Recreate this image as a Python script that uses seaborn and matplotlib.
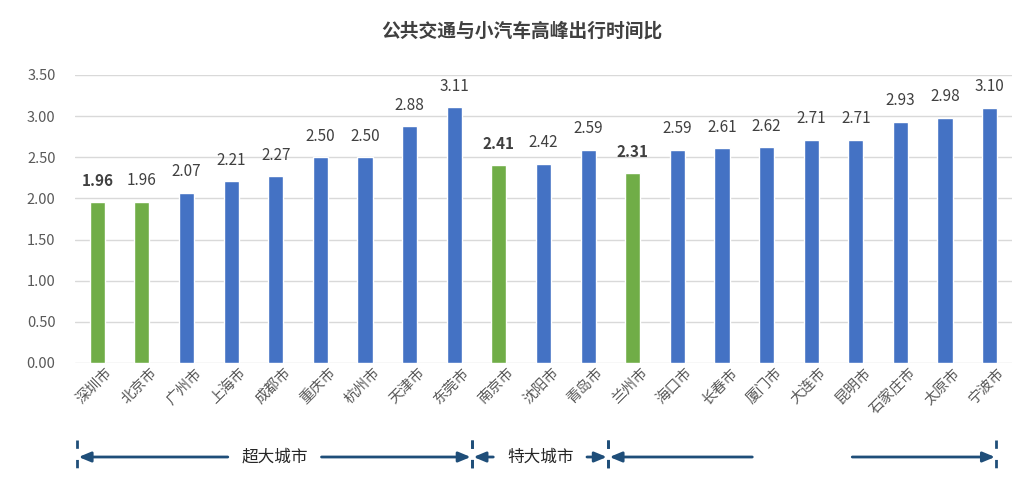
import matplotlib
matplotlib.use("Agg")
import matplotlib.pyplot as plt
import matplotlib.transforms as mtransforms
import seaborn as sns
import pandas as pd

cities = ["深圳市", "北京市", "广州市", "上海市", "成都市", "重庆市", "杭州市", "天津市", "东莞市",
          "南京市", "沈阳市", "青岛市",
          "兰州市", "海口市", "长春市", "厦门市", "大连市", "昆明市", "石家庄市", "太原市", "宁波市"]
values = [1.96, 1.96, 2.07, 2.21, 2.27, 2.50, 2.50, 2.88, 3.11,
          2.41, 2.42, 2.59,
          2.31, 2.59, 2.61, 2.62, 2.71, 2.71, 2.93, 2.98, 3.10]
highlight = [True, True, False, False, False, False, False, False, False,
             True, False, False,
             True, False, False, False, False, False, False, False, False]
bold_labels = [True, False, False, False, False, False, False, False, False,
               True, False, False,
               True, False, False, False, False, False, False, False, False]
groups = ["超大城市", "特大城市", ""]
group_spans = [(-0.45, 8.4), (8.4, 11.45), (11.45, 20.15)]
yticks = [0.0, 0.5, 1.0, 1.5, 2.0, 2.5, 3.0, 3.5]
title = "公共交通与小汽车高峰出行时间比"

sns.set_theme(style="white")
plt.rcParams["font.family"] = ["Noto Sans CJK SC", "DejaVu Sans"]

df = pd.DataFrame({"city": cities, "value": values,
                   "kind": ["hl" if h else "normal" for h in highlight]})

fig = plt.figure(figsize=(10.30, 4.86), dpi=100)
ax = fig.add_axes([0.0728, 0.2531, 0.9097, 0.5926])

sns.barplot(data=df, x="city", y="value", hue="kind",
            palette={"hl": "#70AD47", "normal": "#4472C4"}, saturation=1,
            dodge=False, width=0.34, legend=False, ax=ax)

ax.set_xlim(-0.5, len(cities) - 0.5)
ax.set_ylim(0, 3.5)
ax.set_yticks(yticks)
ax.set_yticklabels([f"{t:.2f}" for t in yticks], color="#595959", fontsize=10.5)
ax.yaxis.grid(True, color="#D9D9D9", linewidth=1)
ax.set_axisbelow(True)
for s in ax.spines.values():
    s.set_visible(False)
ax.tick_params(axis="y", length=0, pad=14)
ax.tick_params(axis="x", length=0, pad=2)
ax.set_xlabel("")
ax.set_ylabel("")
ax.set_xticks(range(len(cities)))
ax.set_xticklabels(cities, rotation=45, ha="right", rotation_mode="anchor",
                   color="#595959", fontsize=10.5)
for lbl in ax.get_xticklabels():
    lbl.set_transform(lbl.get_transform() + mtransforms.ScaledTranslation(8 / 100, 0, fig.dpi_scale_trans))

for i, (v, b) in enumerate(zip(values, bold_labels)):
    ax.annotate(f"{v:.2f}", (i, v), xytext=(0, 9), textcoords="offset points",
                ha="center", va="bottom", fontsize=11,
                color="#404040", fontweight="bold" if b else "normal")

fig.suptitle(title, x=0.507, y=0.955, fontsize=13.5, fontweight="bold", color="#404040")

# group brackets below the axis
trans = mtransforms.blended_transform_factory(ax.transData, fig.transFigure)
line_c = "#1F4E79"
y_arr = 1 - 457 / 486
for (x0, x1), name in zip(group_spans, groups):
    for xv in (x0, x1):
        ax.plot([xv, xv], [1 - 440 / 486, 1 - 478 / 486], transform=trans,
                color=line_c, linestyle=(0, (3, 4)), linewidth=2, clip_on=False)
    mid = (x0 + x1) / 2
    if name:
        ax.text(mid, y_arr, name, transform=trans, ha="center", va="center",
                fontsize=12, color="#262626")
        half = 1.05
    else:
        half = 1.12
    for xs, xe in [(mid - half, x0), (mid + half, x1)]:
        ax.annotate("", xy=(xe, y_arr), xytext=(xs, y_arr), xycoords=trans, textcoords=trans,
                    arrowprops=dict(arrowstyle="-|>,head_length=0.6,head_width=0.25",
                                    color=line_c, linewidth=2, shrinkA=0, shrinkB=1))

fig.savefig("out.png", dpi=100)
